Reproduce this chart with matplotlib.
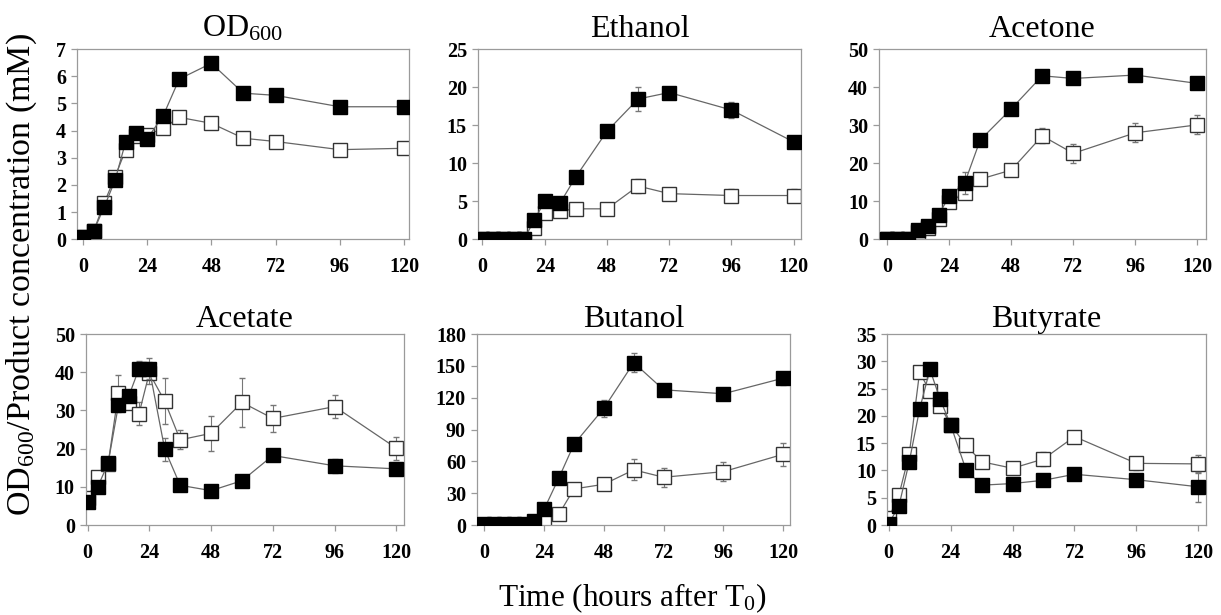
import matplotlib
matplotlib.use("Agg")
import matplotlib.pyplot as plt

plt.rcParams['font.family'] = ['Liberation Serif', 'DejaVu Serif']
plt.rcParams['mathtext.fontset'] = 'custom'
plt.rcParams['mathtext.rm'] = 'Liberation Serif'
plt.rcParams['mathtext.it'] = 'Liberation Serif:italic'

# sampling times (hours after T0)
hours = [0, 4, 8, 12, 16, 20, 24, 30, 36, 48, 60, 72, 96, 120]

titles = ["OD$\\mathregular{_{600}}$", "Ethanol", "Acetone", "Acetate", "Butanol", "Butyrate"]

# filled squares
od_filled = [0.1, 0.3, 1.2, 2.17, 3.6, 3.9, 3.7, 4.55, 5.9, 6.48, 5.38, 5.3, 4.88, 4.88]
ethanol_filled = [0, 0, 0, 0, 0, 2.5, 5.0, 4.8, 8.2, 14.2, 18.45, 19.3, 17.0, 12.8]
acetone_filled = [0, 0, 0, 2.4, 3.5, 6.5, 11.3, 14.8, 26.1, 34.3, 43.0, 42.3, 43.2, 41.0]
acetate_filled = [6.0, 10.0, 16.2, 31.3, 33.7, 40.9, 40.9, 19.8, 10.4, 9.0, 11.6, 18.2, 15.5, 14.7]
butanol_filled = [0.5, 0.5, 0.5, 0.5, 0.5, 3.8, 14.8, 44.7, 76.1, 110, 153, 127.4, 123.7, 138.4]
butyrate_filled = [0.2, 3.5, 11.6, 21.2, 28.5, 23.0, 18.4, 10.1, 7.3, 7.6, 8.2, 9.3, 8.3, 7.0]

# open squares
od_open = [0.1, 0.3, 1.35, 2.3, 3.3, 3.8, 3.85, 4.08, 4.49, 4.27, 3.72, 3.6, 3.3, 3.35]
ethanol_open = [0, 0, 0, 0, 0, 1.5, 3.4, 3.7, 4.0, 4.0, 7.0, 6.0, 5.75, 5.75]
acetone_open = [0, 0, 0, 2.0, 3.0, 5.2, 9.7, 12.2, 15.8, 18.2, 27.2, 22.6, 28.0, 30.1]
acetate_open = [7.0, 12.5, 16.0, 34.5, 32.0, 29.1, 39.8, 32.4, 22.3, 24.0, 32.1, 27.9, 31.0, 20.1]
butanol_open = [0, 0, 0, 0, 0, 0.5, 3.8, 10.4, 34.0, 38.4, 52.0, 45.0, 50.3, 66.7]
butyrate_open = [1.2, 5.5, 13.0, 28.0, 24.5, 21.8, 18.4, 14.6, 11.6, 10.4, 12.1, 16.2, 11.3, 11.2]

# error bars
od_filled_err = [0] * 14
ethanol_filled_err = [0, 0, 0, 0, 0, 0, 0, 0.5, 0.5, 0.8, 1.6, 0.5, 1.0, 0.8]
acetone_filled_err = [0, 0, 0, 0, 0, 0, 0, 3, 0, 0, 0, 1.5, 0, 0]
acetate_filled_err = [0, 0, 0, 0, 0, 2, 2.8, 3, 0, 0, 0, 0, 1.8, 0]
butanol_filled_err = [0, 0, 0, 0, 0, 0, 0, 0, 0, 8, 9, 3, 4, 6]
butyrate_filled_err = [0, 0, 0, 0, 0, 0, 0, 0, 0, 0, 0, 0, 0, 2.7]

od_open_err = [0] * 14
ethanol_open_err = [0, 0, 0, 0, 0, 0, 0, 0.5, 0.5, 0.5, 0.9, 0.8, 0.9, 0.9]
acetone_open_err = [0, 0, 0, 0, 0, 0, 0, 0, 0, 0, 2, 2.5, 2.5, 2.5]
acetate_open_err = [0, 0, 0, 4.8, 0, 3, 3, 6, 2.5, 4.5, 6.5, 3.5, 3, 3]
butanol_open_err = [0, 0, 0, 0, 0, 0, 0, 0, 0, 5, 10, 9, 9, 11]
butyrate_open_err = [0, 0, 0, 0, 0, 0, 0, 0, 0, 0, 1.2, 1, 1.2, 1.6]

filled = [od_filled, ethanol_filled, acetone_filled, acetate_filled, butanol_filled, butyrate_filled]
opened = [od_open, ethanol_open, acetone_open, acetate_open, butanol_open, butyrate_open]
filled_err = [od_filled_err, ethanol_filled_err, acetone_filled_err,
              acetate_filled_err, butanol_filled_err, butyrate_filled_err]
open_err = [od_open_err, ethanol_open_err, acetone_open_err,
            acetate_open_err, butanol_open_err, butyrate_open_err]

y_max = [7, 25, 50, 50, 180, 35]
y_step = [1, 5, 10, 10, 30, 5]
x_ticks = [0, 24, 48, 72, 96, 120]

# axes boxes in figure fractions [left, bottom, width, height]
boxes = [
    [0.0631, 0.611, 0.2719, 0.309],
    [0.3915, 0.611, 0.2645, 0.309],
    [0.7200, 0.611, 0.2678, 0.309],
    [0.0704, 0.1463, 0.2604, 0.3106],
    [0.3907, 0.1463, 0.2563, 0.3106],
    [0.7265, 0.1463, 0.2613, 0.3106],
]
xlims = [(-2.2, 121.9), (-1.7, 122.8), (-3.1, 123.4), (-0.6, 122.9), (-2.9, 122.7), (-0.6, 123)]

fig = plt.figure(figsize=(12.21, 6.15), dpi=100)

for i in range(6):
    ax = fig.add_axes(boxes[i])
    ax.errorbar(hours, opened[i], yerr=open_err[i], color='#666666', lw=0.9,
                marker='s', ms=9.5, mfc='white', mec='#333333', mew=1.0,
                ecolor='#777777', elinewidth=0.8, capsize=2, zorder=2)
    ax.errorbar(hours, filled[i], yerr=filled_err[i], color='#666666', lw=0.9,
                marker='s', ms=9.5, mfc='black', mec='black', mew=1.0,
                ecolor='#777777', elinewidth=0.8, capsize=2, zorder=3)
    ax.set_xlim(xlims[i])
    ax.set_ylim(0, y_max[i])
    ax.set_xticks(x_ticks)
    ax.set_yticks(range(0, y_max[i] + 1, y_step[i]))
    for s in ax.spines.values():
        s.set_color('#9a9a9a')
        s.set_linewidth(0.9)
    ax.tick_params(direction='out', length=4, width=0.9, color='#9a9a9a',
                   labelsize=14.5, pad=4)
    ax.tick_params(axis='x', pad=9)
    for lab in ax.get_xticklabels() + ax.get_yticklabels():
        lab.set_fontweight('bold')
    ax.set_title(titles[i], fontsize=23, pad=9 if i < 3 else 5)

fig.text(0.018, 0.553, "OD$\\mathregular{_{600}}$/Product concentration (mM)",
         rotation=90, fontsize=24.5, ha='center', va='center')
fig.text(0.518, 0.027, "Time (hours after T$\\mathregular{_0}$)", fontsize=22.5,
         ha='center', va='center')

fig.savefig("out.png", dpi=100)
